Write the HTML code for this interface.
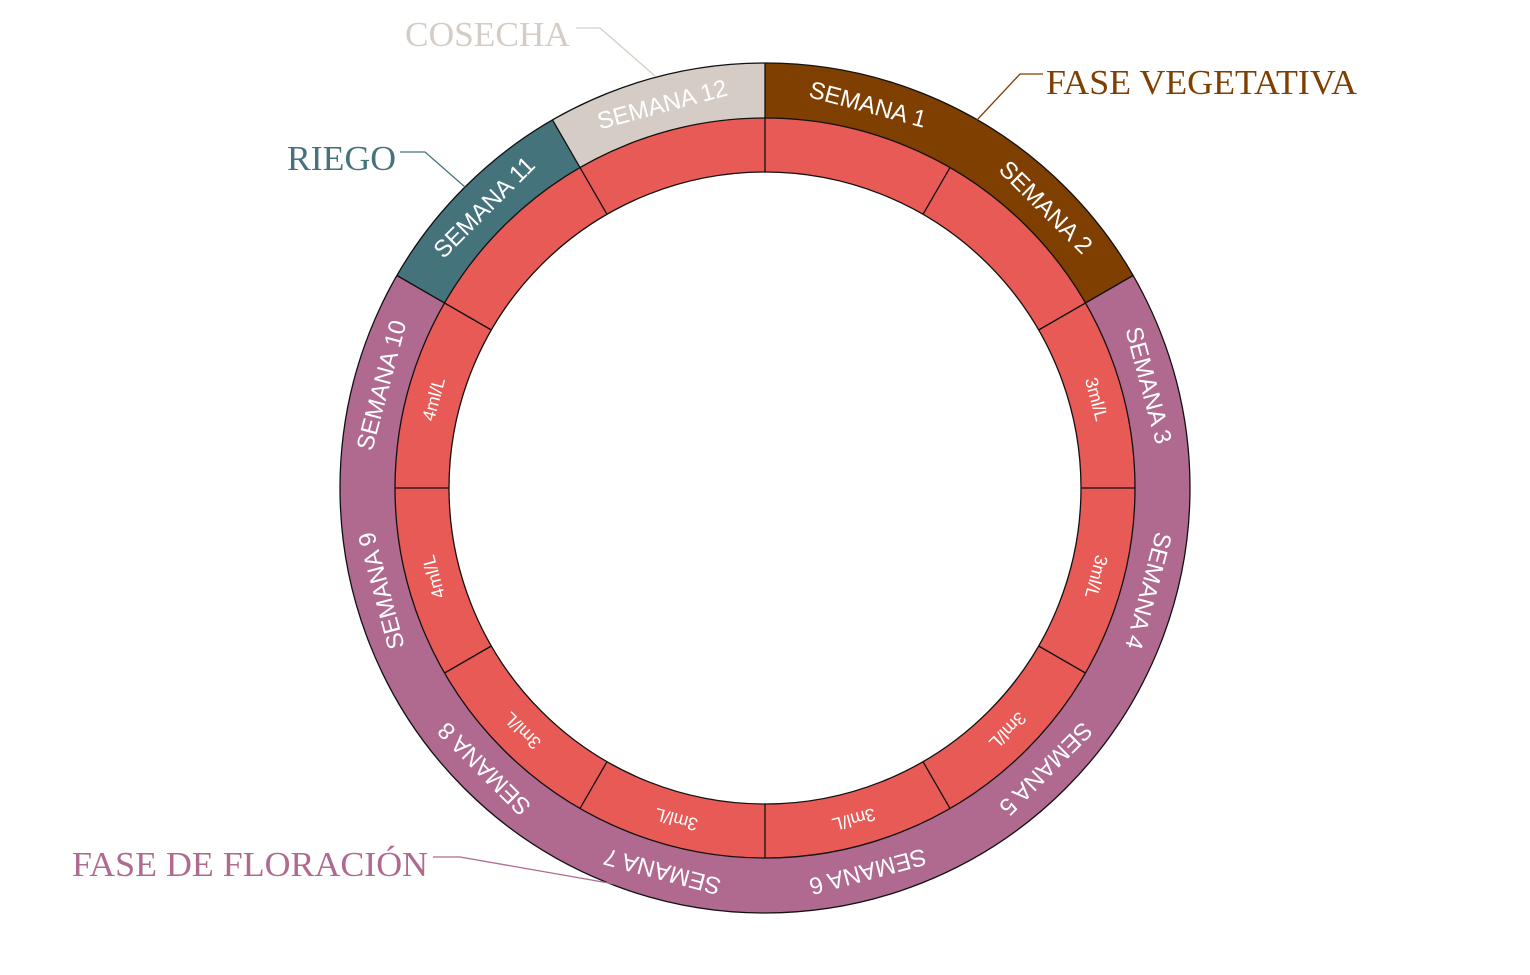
<!DOCTYPE html>
<html><head><meta charset="utf-8"><style>
html,body{margin:0;padding:0;background:#fff;}
svg{display:block;}
.w{font-family:"Liberation Sans",sans-serif;font-size:24px;fill:#fff;text-anchor:middle;}
.d{font-family:"Liberation Sans",sans-serif;font-size:18px;fill:#fff;text-anchor:middle;}
.c{font-family:"Liberation Serif",serif;font-size:35px;}
</style></head><body>
<svg width="1530" height="975" viewBox="0 0 1530 975">
<g transform="rotate(-90 765 488)">
<circle cx="765" cy="488" r="397.5" fill="none" stroke="#b0698f" stroke-width="55"/>
<circle cx="765" cy="488" r="397.5" fill="none" stroke="#7f3f00" stroke-width="55" stroke-dasharray="416.27 3000"/>
<circle cx="765" cy="488" r="397.5" fill="none" stroke="#45737b" stroke-width="55" stroke-dasharray="208.13 3000" stroke-dashoffset="-2081.3"/>
<circle cx="765" cy="488" r="397.5" fill="none" stroke="#d5cdc5" stroke-width="55" stroke-dasharray="208.13 3000" stroke-dashoffset="-2289.4"/>
</g>
<circle cx="765" cy="488" r="343" fill="none" stroke="#e85a55" stroke-width="54"/>
<g fill="none" stroke="#111" stroke-width="1.3">
<circle cx="765" cy="488" r="425"/>
<circle cx="765" cy="488" r="370"/>
<circle cx="765" cy="488" r="316"/>
<line x1="765" y1="63" x2="765" y2="118"/>
<line x1="765" y1="63" x2="765" y2="118" transform="rotate(60 765 488)"/>
<line x1="765" y1="63" x2="765" y2="118" transform="rotate(300 765 488)"/>
<line x1="765" y1="63" x2="765" y2="118" transform="rotate(330 765 488)"/>
<g>
<line x1="765" y1="118" x2="765" y2="172"/>
<line x1="765" y1="118" x2="765" y2="172" transform="rotate(30 765 488)"/>
<line x1="765" y1="118" x2="765" y2="172" transform="rotate(60 765 488)"/>
<line x1="765" y1="118" x2="765" y2="172" transform="rotate(90 765 488)"/>
<line x1="765" y1="118" x2="765" y2="172" transform="rotate(120 765 488)"/>
<line x1="765" y1="118" x2="765" y2="172" transform="rotate(150 765 488)"/>
<line x1="765" y1="118" x2="765" y2="172" transform="rotate(180 765 488)"/>
<line x1="765" y1="118" x2="765" y2="172" transform="rotate(210 765 488)"/>
<line x1="765" y1="118" x2="765" y2="172" transform="rotate(240 765 488)"/>
<line x1="765" y1="118" x2="765" y2="172" transform="rotate(270 765 488)"/>
<line x1="765" y1="118" x2="765" y2="172" transform="rotate(300 765 488)"/>
<line x1="765" y1="118" x2="765" y2="172" transform="rotate(330 765 488)"/>
</g>
</g>
<g>
<text class="w" x="765" y="99" transform="rotate(15 765 488)">SEMANA 1</text>
<text class="w" x="765" y="99" transform="rotate(45 765 488)">SEMANA 2</text>
<text class="w" x="765" y="99" transform="rotate(75 765 488)">SEMANA 3</text>
<text class="w" x="765" y="99" transform="rotate(105 765 488)">SEMANA 4</text>
<text class="w" x="765" y="99" transform="rotate(135 765 488)">SEMANA 5</text>
<text class="w" x="765" y="99" transform="rotate(165 765 488)">SEMANA 6</text>
<text class="w" x="765" y="99" transform="rotate(195 765 488)">SEMANA 7</text>
<text class="w" x="765" y="99" transform="rotate(225 765 488)">SEMANA 8</text>
<text class="w" x="765" y="99" transform="rotate(255 765 488)">SEMANA 9</text>
<text class="w" x="765" y="99" transform="rotate(285 765 488)">SEMANA 10</text>
<text class="w" x="765" y="99" transform="rotate(315 765 488)">SEMANA 11</text>
<text class="w" x="765" y="99" transform="rotate(345 765 488)">SEMANA 12</text>
<text class="d" x="765" y="151" transform="rotate(75 765 488)">3ml/L</text>
<text class="d" x="765" y="151" transform="rotate(105 765 488)">3ml/L</text>
<text class="d" x="765" y="151" transform="rotate(135 765 488)">3ml/L</text>
<text class="d" x="765" y="151" transform="rotate(165 765 488)">3ml/L</text>
<text class="d" x="765" y="151" transform="rotate(195 765 488)">3ml/L</text>
<text class="d" x="765" y="151" transform="rotate(225 765 488)">3ml/L</text>
<text class="d" x="765" y="151" transform="rotate(255 765 488)">4ml/L</text>
<text class="d" x="765" y="151" transform="rotate(285 765 488)">4ml/L</text>
</g>
<text class="c" x="405" y="46" fill="#d5cdc5" textLength="165" lengthAdjust="spacingAndGlyphs">COSECHA</text>
<polyline points="576,28 600,28 655,76" fill="none" stroke="#d5cdc5" stroke-width="1.3"/>
<text class="c" x="1046" y="94" fill="#7f3f00" textLength="311" lengthAdjust="spacingAndGlyphs">FASE VEGETATIVA</text>
<polyline points="1043,74 1020,74 977,120" fill="none" stroke="#7f3f00" stroke-width="1.3"/>
<text class="c" x="287" y="170" fill="#45737b" textLength="109" lengthAdjust="spacingAndGlyphs">RIEGO</text>
<polyline points="400,152 425,152 465,187" fill="none" stroke="#45737b" stroke-width="1.3"/>
<text class="c" x="72" y="876" fill="#b0698f" textLength="356" lengthAdjust="spacingAndGlyphs">FASE DE FLORACIÓN</text>
<polyline points="433,857 460,857 620,885" fill="none" stroke="#b0698f" stroke-width="1.3"/>
</svg>
</body></html>
